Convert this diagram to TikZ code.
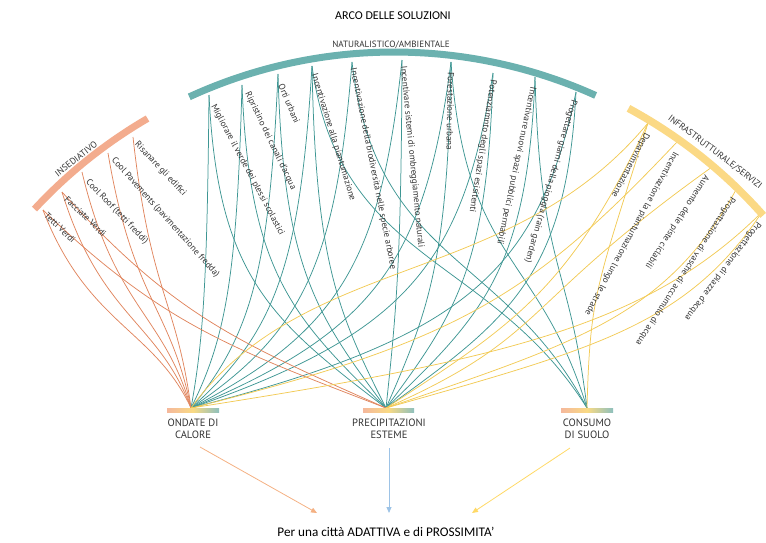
\documentclass[tikz,border=0pt]{standalone}
\usepackage{fontspec}
\setmainfont{Carlito}
\newfontfamily\labfont{PT Sans}
\usetikzlibrary{calc,arrows.meta}
\definecolor{tealarc}{HTML}{6BB1AF}
\definecolor{tealln}{HTML}{3E9693}
\definecolor{orarc}{HTML}{F3AC8E}
\definecolor{orln}{HTML}{E0855E}
\definecolor{yearc}{HTML}{FBD985}
\definecolor{yeln}{HTML}{F2CA55}
\definecolor{txt}{HTML}{333333}
\definecolor{arrOr}{HTML}{F4B183}
\definecolor{arrBl}{HTML}{9DC3E6}
\definecolor{arrYe}{HTML}{FFD966}
\definecolor{barL}{HTML}{F5B89C}
\definecolor{barM}{HTML}{F9DA84}
\definecolor{barR}{HTML}{8EC0BD}
% style, source, target, a, b, c
\newcommand\mylink[6]{%
  \draw[#1] let \p1=(#2), \p2=(#3), \n1={\y1-\y2} in
   (#2) .. controls ({\x1+#4*(\x2-\x1)},{\y1-0.58*\n1}) and ({\x2+#5*(\x1-\x2)},{\y2+#6*\n1}) .. (#3);}
\begin{document}
\begin{tikzpicture}[x=1pt,y=-1pt,
  lbl/.style={font=\labfont\fontsize{9}{10}\selectfont, text=txt, inner sep=0pt, anchor=west},
  cat/.style={font=\labfont\fontsize{9.1}{10}\selectfont, text=txt, inner sep=0pt},
  btm/.style={font=\labfont\fontsize{10.6}{12.5}\selectfont, text=txt, align=center, inner sep=0pt},
  tl/.style={tealln, line width=0.75pt},
  ol/.style={orln, line width=0.75pt},
  yl/.style={yeln, line width=0.75pt},
  arr/.style={line width=0.8pt, -{Triangle[length=6pt,width=5pt]}}]
\useasboundingbox (0,0) rectangle (766,542);

% title
\node[font=\fontsize{12}{14}\selectfont, text=black] (title) at (393,16) {ARCO DELLE SOLUZIONI};

% targets
\coordinate (tO) at (191,408);
\coordinate (tP) at (386,408);
\coordinate (tC) at (587,408);

% sources
\coordinate (s1) at (209,95);
\coordinate (s2) at (242,85);
\coordinate (s3) at (278,74);
\coordinate (s4) at (312,66);
\coordinate (s5) at (352,62);
\coordinate (s6) at (402,60);
\coordinate (s7) at (451,62);
\coordinate (s8) at (493,73);
\coordinate (s9) at (535,77);
\coordinate (s10) at (576,92);
\coordinate (o1) at (133,137);
\coordinate (o2) at (108,153);
\coordinate (o3) at (82,172);
\coordinate (o4) at (62,192);
\coordinate (o5) at (43,210);
\coordinate (y1) at (648,123);
\coordinate (y2) at (677,142);
\coordinate (y3) at (712,167);
\coordinate (y4) at (737,188);
\coordinate (y5) at (762,212);

% teal links
\mylink{tl}{s1}{tO}{0.1}{0.7}{0.22}
\mylink{tl}{s1}{tP}{0.05}{0.65}{0.28}
\mylink{tl}{s2}{tO}{0.1}{0.7}{0.22}
\mylink{tl}{s2}{tP}{0.05}{0.65}{0.28}
\mylink{tl}{s3}{tO}{0.1}{0.7}{0.22}
\mylink{tl}{s3}{tP}{0.05}{0.65}{0.28}
\mylink{tl}{s4}{tO}{0.1}{0.7}{0.22}
\mylink{tl}{s4}{tP}{0.05}{0.65}{0.28}
\mylink{tl}{s4}{tC}{0.1}{0.35}{0.45}
\mylink{tl}{s5}{tO}{0.1}{0.7}{0.22}
\mylink{tl}{s5}{tC}{0.1}{0.35}{0.45}
\mylink{tl}{s6}{tO}{0.1}{0.7}{0.22}
\mylink{tl}{s6}{tP}{0.05}{0.65}{0.28}
\mylink{tl}{s7}{tO}{0.1}{0.7}{0.22}
\mylink{tl}{s7}{tP}{0.05}{0.65}{0.28}
\mylink{tl}{s7}{tC}{0.1}{0.35}{0.45}
\mylink{tl}{s8}{tO}{0.1}{0.7}{0.22}
\mylink{tl}{s8}{tP}{0.05}{0.65}{0.28}
\mylink{tl}{s9}{tP}{0.05}{0.65}{0.28}
\mylink{tl}{s9}{tC}{0.1}{0.35}{0.45}
\mylink{tl}{s10}{tO}{0.1}{0.7}{0.22}
\mylink{tl}{s10}{tP}{0.05}{0.65}{0.28}

% orange links
\mylink{ol}{o1}{tO}{0.3}{0.25}{0.4}
\mylink{ol}{o2}{tO}{0.3}{0.25}{0.4}
\mylink{ol}{o3}{tO}{0.3}{0.25}{0.4}
\mylink{ol}{o4}{tO}{0.3}{0.25}{0.4}
\mylink{ol}{o5}{tO}{0.3}{0.25}{0.4}
\mylink{ol}{o4}{tP}{0.35}{0.45}{0.3}
\mylink{ol}{o5}{tP}{0.35}{0.45}{0.3}

% yellow links
\mylink{yl}{y1}{tC}{0.85}{0.05}{0.4}
\mylink{yl}{y1}{tO}{0.3}{0.25}{0.55}
\mylink{yl}{y1}{tP}{0.3}{0.5}{0.3}
\mylink{yl}{y2}{tO}{0.3}{0.55}{0.25}
\mylink{yl}{y3}{tP}{0.6}{0.5}{0.3}
\mylink{yl}{y4}{tP}{0.2}{0.55}{0.3}
\mylink{yl}{y5}{tP}{0.2}{0.55}{0.3}
\mylink{yl}{y5}{tO}{0.2}{0.55}{0.25}

% arcs
\draw[tealarc, line width=7pt] (394,542) ++(-114.7:490) arc[start angle=-114.7, end angle=-65.7, radius=490];
\draw[orarc, line width=7pt] (394,542) ++(-137.2:490) arc[start angle=-137.2, end angle=-120.2, radius=490];
\draw[yearc, line width=7.5pt] (394,542) ++(-61.6:493) arc[start angle=-61.6, end angle=-41.5, radius=493];

% category labels
\node[cat] (natl) at (391,45) {NATURALISTICO/AMBIENTALE};
\node[cat, rotate=38] (insl) at (76,159) {INSEDIATIVO};
\node[cat, rotate=-37] (infl) at (715,152) {INFRASTRUTTURALE/SERVIZI};

% teal labels
\node[lbl, rotate=-62] (t1l) at (213,105) {Migliorare il verde dei plessi scolastici};
\node[lbl, rotate=-64.4] (t2l) at (247,92) {Ripristino dei canali d’acqua};
\node[lbl, rotate=-67] (t3l) at (281,84) {Orti urbani};
\node[lbl, rotate=-73] (t4l) at (314,74) {Incentivazione alla piantumazione};
\node[lbl, rotate=-78.7] (t5l) at (353,68) {Incentivazione della biodiversità nelle specie arboree};
\node[lbl, rotate=-84.4] (t6l) at (403,66) {Incentivare sistemi di ombreggiamento naturali};
\node[lbl, rotate=-91] (t7l) at (451,72) {Forestazione urbana};
\node[lbl, rotate=-99] (t8l) at (493,80) {Potenziamnto degli spazi esisitenti};
\node[lbl, rotate=-102] (t9l) at (533,87) {Incentivare nuovi spazi pubblici permabili};
\node[lbl, rotate=-106] (t10l) at (574,100) {Progettare giarni della pioggia (rain garden)};

% orange labels
\node[lbl, rotate=-46.7] (o1l) at (136,143) {Risanare gli edifici};
\node[lbl, rotate=-48.2] (o2l) at (113,159) {Cool Pavements (pavimentazione fredda)};
\node[lbl, rotate=-46] (o3l) at (87,181) {Cool Roof (tetti freddi)};
\node[lbl, rotate=-43.5] (o4l) at (66,198) {Facciate Verdi};
\node[lbl, rotate=-44] (o5l) at (46,214) {Tetti Verdi};

% yellow labels
\node[lbl, rotate=-117.6] (y1l) at (647,133) {Depavimentazione};
\node[lbl, rotate=-118.7] (y2l) at (676,152) {Incentivazione la piantumazione lungo le strade};
\node[lbl, rotate=-123] (y3l) at (707,176) {Aumento delle piste ciclabili};
\node[lbl, rotate=-123] (y4l) at (733,198) {Progettazione di vasche di accumulo di acqua};
\node[lbl, rotate=-127] (y5l) at (759,223) {Progettazione di piazze d’acqua};

% bars
\shade[left color=barL, right color=barR, middle color=barM] (167,408) rectangle (219,412);
\shade[left color=barL, right color=barR, middle color=barM] (363,408) rectangle (414,412);
\shade[left color=barL, right color=barR, middle color=barM] (561,408) rectangle (613,412);

% bottom labels
\node[btm] (ond) at (193,429) {ONDATE DI\\CALORE};
\node[btm] (pre) at (389,429) {PRECIPITAZIONI\\ESTEME};
\node[btm] (con) at (587,429) {CONSUMO\\DI SUOLO};

% arrows
\coordinate (aOs) at (200,447);
\coordinate (aOe) at (317,513);
\coordinate (aPs) at (389,448);
\coordinate (aPe) at (389,513);
\coordinate (aCs) at (570,448);
\coordinate (aCe) at (472,513);
\draw[arr, arrOr] (aOs) -- (aOe);
\draw[arr, arrBl] (aPs) -- (aPe);
\draw[arr, arrYe] (aCs) -- (aCe);

\node[font=\fontsize{13.2}{15}\selectfont, text=black] (fin) at (386,532) {Per una città ADATTIVA e di PROSSIMITA’};
\end{tikzpicture}
\end{document}
